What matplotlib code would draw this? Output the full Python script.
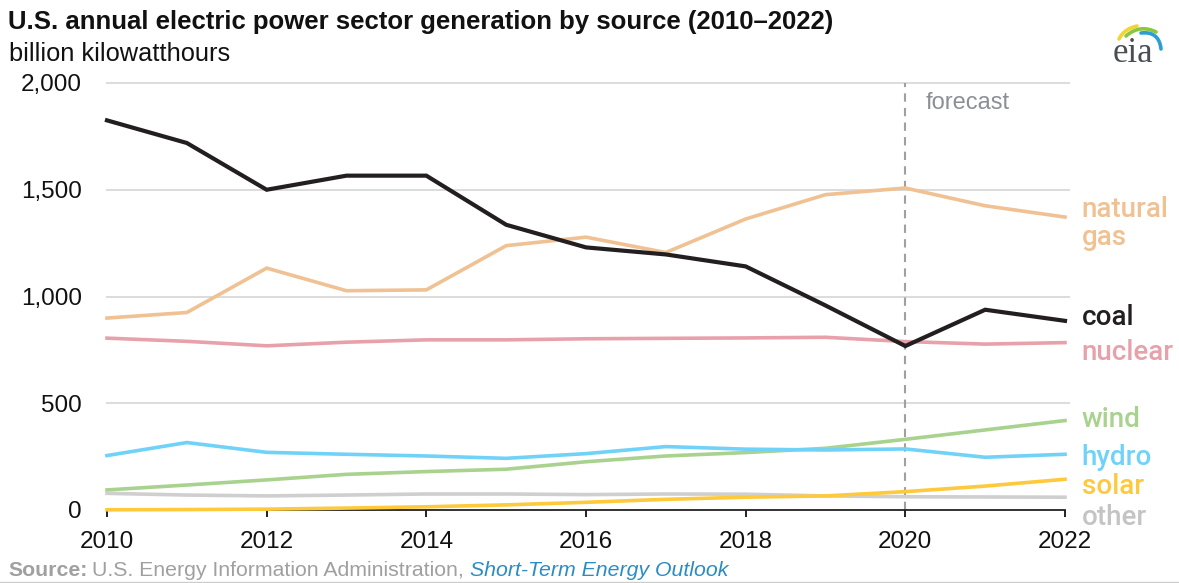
import matplotlib
matplotlib.use("Agg")
import numpy as np
import matplotlib.pyplot as plt
from matplotlib.lines import Line2D

years = list(range(2010, 2023))
coal = [1825, 1719, 1500, 1566, 1566, 1336, 1230, 1197, 1141, 958, 768, 938, 886]
natural_gas = [899, 925, 1133, 1027, 1031, 1238, 1278, 1206, 1363, 1477, 1508, 1425, 1372]
nuclear = [805, 790, 769, 786, 797, 797, 802, 804, 806, 809, 789, 777, 784]
hydro = [255, 316, 270, 261, 253, 242, 264, 297, 285, 281, 286, 247, 261]
wind = [94, 117, 141, 167, 180, 191, 226, 253, 269, 289, 331, 375, 419]
solar = [1, 2, 4, 9, 15, 24, 36, 50, 60, 66, 86, 112, 144]
other = [78, 70, 66, 70, 75, 75, 72, 75, 74, 66, 62, 61, 60]

series = [
    ("coal", coal, "#231f20", 3.0),
    ("natural gas", natural_gas, "#efc193", 2.6),
    ("nuclear", nuclear, "#e8a1ab", 2.6),
    ("hydro", hydro, "#71d2f8", 2.6),
    ("wind", wind, "#a9d28f", 2.6),
    ("solar", solar, "#ffc93c", 2.6),
    ("other", other, "#cfcfcf", 2.6),
]
labels = [("natural\ngas", 1341, "#efc193"), ("coal", 900, "#231f20"),
          ("nuclear", 736, "#e8a1ab"), ("wind", 422, "#a9d28f"),
          ("hydro", 248, "#71d2f8"), ("solar", 108, "#ffc93c"),
          ("other", -33, "#c4c4c4")]
yticks = [0, 500, 1000, 1500, 2000]
xticks = [2010, 2012, 2014, 2016, 2018, 2020, 2022]

plt.rcParams['font.family'] = ['Liberation Sans', 'DejaVu Sans']

W, H = 1179, 583
fig = plt.figure(figsize=(W / 100, H / 100), dpi=100)
ax = fig.add_axes([107 / W, 1 - 510 / H, (1065 - 107) / W, (510 - 83) / H])
ax.set_xlim(2010, 2022)
ax.set_ylim(0, 2000)
for s in ["top", "right", "left"]:
    ax.spines[s].set_visible(False)
ax.spines["bottom"].set_color("#222222")
ax.spines["bottom"].set_linewidth(1.3)

# gridlines
for yv in yticks[1:]:
    ax.plot([0, 1.004], [yv, yv], transform=ax.get_yaxis_transform(),
            color="#dcdcdc", lw=1.4, clip_on=False, zorder=0)

ax.set_yticks(yticks)
ax.set_yticklabels([f"{v:,}" for v in yticks], fontsize=17.5, color="#111111")
ax.tick_params(axis="y", length=0, pad=18)
ax.set_xticks(xticks)
ax.set_xticklabels([str(v) for v in xticks], fontsize=17.5, color="#111111")
ax.tick_params(axis="x", length=5, width=1.4, color="#222222", pad=10, direction="out")

# forecast line
ax.axvline(2020, color="#a0a0a0", lw=1.5, ls=(0, (4, 3)), zorder=1)
ax.text(2020.25, 1908, "forecast", fontsize=17, color="#8c8f96", va="center", ha="left")

for name, vals, col, lw in series[::-1]:
    ax.plot(years, vals, color=col, lw=lw, solid_joinstyle="miter", clip_on=False, zorder=3)

for txt, yv, col in labels:
    ax.text(2022.21, yv, txt, fontsize=20, color=col, va="center", ha="left",
            family=["Roboto", "DejaVu Sans"], fontweight="medium",
            linespacing=1.05, clip_on=False)

fig.text(8 / W, 1 - 22 / H, "U.S. annual electric power sector generation by source (2010\u20132022)",
         fontsize=18.5, fontweight="bold", color="#111111", va="center", ha="left")
fig.text(9 / W, 1 - 54 / H, "billion kilowatthours", fontsize=18.3, color="#111111",
         va="center", ha="left")

# source line
t1 = fig.text(8 / W, 1 - 571 / H, "Source:", fontsize=15.3, fontweight="bold",
              color="#a0a0a0", va="center", ha="left")
fig.canvas.draw()
r = fig.canvas.get_renderer()
bb = t1.get_window_extent(r)
t2 = fig.text(bb.x1 / W + 5 / W, 1 - 571 / H, "U.S. Energy Information Administration, ",
              fontsize=15.3, color="#a0a0a0", va="center", ha="left")
bb2 = t2.get_window_extent(r)
fig.text(bb2.x1 / W, 1 - 571 / H, "Short-Term Energy Outlook", fontsize=15.3,
         style="italic", color="#2b8cc4", va="center", ha="left")
fig.add_artist(Line2D([0, 1], [1 - 581.5 / H, 1 - 581.5 / H], color="#cccccc", lw=1))

# eia logo (pixel-coordinate axes)
lax = fig.add_axes([1100 / W, 1 - 70 / H, 70 / W, 50 / H])
lax.set_xlim(1100, 1170)
lax.set_ylim(70, 20)
lax.axis("off")
lax.text(1133, 54, "eia", fontsize=25, family=["Liberation Serif", "DejaVu Serif"],
         color="#4a4d52", va="center", ha="center")


def bez(p0, p1, p2, n=30):
    t = np.linspace(0, 1, n)[:, None]
    pts = (1 - t) ** 2 * np.array(p0) + 2 * (1 - t) * t * np.array(p1) + t ** 2 * np.array(p2)
    return pts[:, 0], pts[:, 1]


for p0, p1, p2, col in [((1119, 39), (1124, 29), (1137, 26), "#f2d531"),
                        ((1126, 36), (1140, 24), (1156, 32), "#8cc63f"),
                        ((1141, 33), (1159, 31), (1161, 49), "#2a9fd6")]:
    xs, ys = bez(p0, p1, p2)
    lax.plot(xs, ys, color=col, lw=2.6, solid_capstyle="round")

fig.savefig("out.png", dpi=100)
